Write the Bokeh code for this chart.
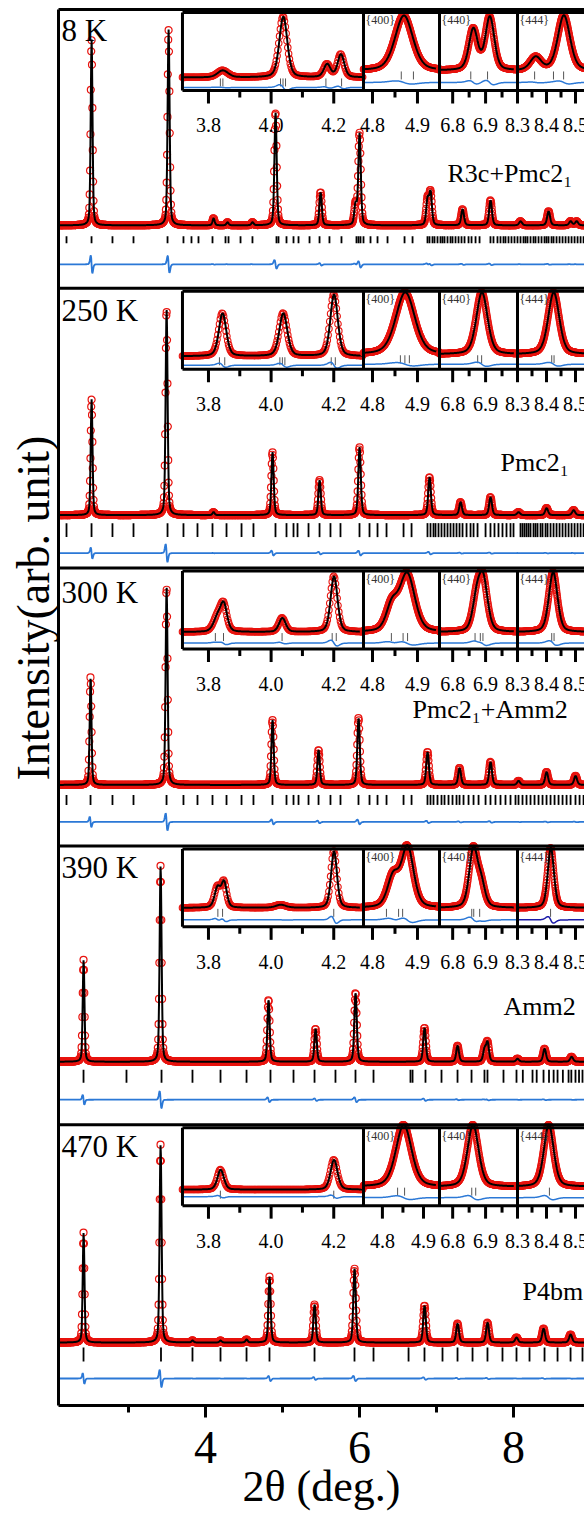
import numpy as np
from bokeh.plotting import figure
from bokeh.models import Range1d, LinearAxis, FixedTicker, Span, Title
from bokeh.core.properties import value
from bokeh.embed import file_html
from bokeh.resources import INLINE

SERIF = "Liberation Serif"
RED = "#e8140f"
BLUE = "#2b78d6"
DARK_BLUE = "#1a1aa8"

# ---------------------------------------------------------------------------
# Data
# ---------------------------------------------------------------------------
TEMPERATURES = ["8 K", "250 K", "300 K", "390 K", "470 K"]
PHASES = ["R3c+Pmc2\u2081", "Pmc2\u2081", "Pmc2\u2081+Amm2", "Amm2", "P4bm"]

TWO_THETA_MIN, TWO_THETA_MAX = 2.09, 8.921
AXIS_MAJOR = [4, 6, 8]
AXIS_MINOR = [3, 5, 7, 9]

# reflections of each pattern: centre (2θ, deg.) and height (arb. unit)
P1_POS = [2.519, 3.519, 4.103, 4.285, 4.609, 4.908, 5.493, 5.947, 5.999, 6.882,
          6.921, 7.337, 7.700, 8.090, 8.454, 8.740, 8.818]
P1_INT = [186, 196, 7, 3, 3, 113, 33, 20, 92, 25, 32, 16, 25, 4, 14, 4, 4]

P2_POS = [2.519, 3.493, 4.103, 4.869, 5.480, 5.999, 6.908, 7.311, 7.700, 8.064,
          8.428, 8.779]
P2_INT = [116, 206, 3, 63, 35, 68, 38, 13, 18, 3, 7, 5]

P3_POS = [2.506, 3.493, 4.869, 5.467, 5.986, 6.882, 7.298, 7.700, 8.064, 8.428,
          8.804]
P3_INT = [108, 198, 65, 35, 67, 33, 17, 23, 4, 13, 9]

P4_POS = [2.415, 3.415, 4.817, 5.428, 5.947, 6.843, 7.272, 7.622, 7.661, 8.051,
          8.402, 8.753]
P4_INT = [102, 196, 62, 33, 69, 34, 16, 12, 19, 3, 13, 5]

P5_POS = [2.415, 3.415, 3.830, 4.194, 4.532, 4.830, 5.415, 5.934, 6.843, 7.272,
          7.661, 8.038, 8.389, 8.740]
P5_INT = [110, 198, 2, 2, 3, 66, 38, 74, 37, 19, 20, 5, 14, 8]

# Bragg reflection markers
P1_HKL = [2.194, 2.519, 2.791, 3.064, 3.506, 3.713, 3.817, 3.908, 4.090, 4.259,
          4.298, 4.454, 4.609, 4.921, 4.947, 5.051, 5.142, 5.207, 5.350, 5.480,
          5.609, 5.765, 5.960, 5.986, 6.012, 6.051, 6.142, 6.233, 6.363, 6.584,
          6.688, 6.882, 6.908, 6.947, 6.973, 7.012, 7.051, 7.077, 7.103, 7.142,
          7.181, 7.207, 7.246, 7.285, 7.324, 7.363, 7.415, 7.454, 7.506, 7.558,
          7.700, 7.739, 7.791, 7.830, 7.869, 7.895, 7.934, 7.973, 8.012, 8.051,
          8.090, 8.129, 8.155, 8.181, 8.220, 8.259, 8.285, 8.324, 8.363, 8.402,
          8.428, 8.454, 8.493, 8.519, 8.558, 8.597, 8.636, 8.675, 8.714, 8.753,
          8.792, 8.831, 8.870, 8.909]
P2_HKL = [2.194, 2.519, 2.791, 3.064, 3.506, 3.713, 3.895, 4.090, 4.272, 4.467,
          4.622, 4.908, 5.051, 5.142, 5.194, 5.337, 5.480, 5.622, 5.752, 5.999,
          6.129, 6.233, 6.350, 6.571, 6.675, 6.882, 6.921, 6.960, 6.986, 7.025,
          7.064, 7.103, 7.142, 7.181, 7.220, 7.259, 7.298, 7.337, 7.389, 7.441,
          7.480, 7.532, 7.636, 7.700, 7.752, 7.804, 7.856, 7.908, 7.960, 7.999,
          8.090, 8.116, 8.142, 8.168, 8.194, 8.220, 8.259, 8.285, 8.311, 8.350,
          8.376, 8.415, 8.441, 8.480, 8.519, 8.558, 8.597, 8.636, 8.675, 8.714,
          8.753, 8.792, 8.831, 8.870, 8.909]
P3_HKL = [2.194, 2.506, 2.791, 3.064, 3.493, 3.713, 3.895, 4.090, 4.272, 4.467,
          4.622, 4.869, 5.051, 5.142, 5.207, 5.337, 5.467, 5.622, 5.752, 5.986,
          6.129, 6.233, 6.350, 6.571, 6.675, 6.882, 6.921, 6.960, 7.012, 7.064,
          7.103, 7.155, 7.207, 7.259, 7.298, 7.350, 7.415, 7.480, 7.545, 7.636,
          7.700, 7.765, 7.830, 7.895, 7.960, 8.025, 8.064, 8.116, 8.168, 8.220,
          8.272, 8.324, 8.376, 8.428, 8.480, 8.532, 8.584, 8.636, 8.688, 8.740,
          8.804, 8.857, 8.909]
P4_HKL = [2.415, 2.973, 3.428, 3.830, 4.194, 4.532, 4.843, 5.142, 5.415, 5.687,
          5.947, 6.181, 6.661, 6.688, 6.856, 7.064, 7.272, 7.454, 7.622, 7.661,
          7.869, 8.038, 8.120, 8.246, 8.300, 8.389, 8.460, 8.520, 8.571, 8.640,
          8.714, 8.750, 8.804, 8.850, 8.895]
P5_HKL = [2.415, 3.421, 3.830, 4.194, 4.532, 4.830, 5.415, 5.934, 6.181, 6.636,
          6.843, 7.077, 7.272, 7.467, 7.661, 7.856, 8.038, 8.207, 8.402, 8.571,
          8.740, 8.895]

# zoomed windows of each pattern: 2θ limits, reflections, heights, widths, markers
SEG_LIMITS = [
    [(3.717, 4.295), (4.780, 4.949), (6.760, 6.997), (8.300, 8.531)],
    [(3.717, 4.295), (4.780, 4.949), (6.760, 6.997), (8.300, 8.531)],
    [(3.717, 4.295), (4.780, 4.949), (6.760, 6.997), (8.300, 8.531)],
    [(3.717, 4.295), (4.780, 4.949), (6.760, 6.997), (8.300, 8.531)],
    [(3.717, 4.295), (4.754, 4.939), (6.760, 6.997), (8.300, 8.531)],
]
SEG_TITLES = ["", "{400}", "{440}", "{444}"]
SEG_MAJOR = [[3.8, 4.0, 4.2], [4.8, 4.9], [6.8, 6.9], [8.3, 8.4, 8.5]]
SEG_MINOR = [[3.9, 4.1], [4.85], [6.85, 6.95], [8.35, 8.45]]

P1_INSET_POS = [[3.845, 4.038, 4.178, 4.222], [4.869], [6.862, 6.912], [8.362, 8.459]]
P1_INSET_INT = [[7, 61, 13, 23], [55], [41, 53], [13, 55]]
P1_INSET_FWHM = [[0.04, 0.03, 0.025, 0.025], [0.047], [0.032, 0.032], [0.045, 0.05]]
P1_INSET_HKL = [[3.838, 3.846, 4.030, 4.038, 4.046, 4.175, 4.225], [4.864, 4.891],
                [6.855, 6.906], [8.359, 8.424, 8.459]]

P2_INSET_POS = [[3.844, 4.038, 4.200], [4.872], [6.888], [8.424]]
P2_INSET_INT = [[43, 43, 62], [62], [62], [62]]
P2_INSET_FWHM = [[0.028, 0.03, 0.028], [0.05], [0.04], [0.045]]
P2_INSET_HKL = [[3.835, 3.852, 4.028, 4.036, 4.044, 4.192, 4.205], [4.862, 4.872, 4.882],
                [6.876, 6.888], [8.418, 8.426]]

P3_INSET_POS = [[3.828, 3.848, 4.035, 4.200], [4.842, 4.876], [6.872, 6.892], [8.422]]
P3_INSET_INT = [[14, 26, 14, 56], [24, 58], [30, 50], [60]]
P3_INSET_FWHM = [[0.03, 0.025, 0.025, 0.026], [0.03, 0.04], [0.03, 0.032], [0.035]]
P3_INSET_HKL = [[3.822, 3.848, 4.035, 4.195, 4.208], [4.842, 4.868, 4.878],
                [6.868, 6.884, 6.892], [8.418, 8.426]]

P4_INSET_POS = [[3.828, 3.849, 4.030, 4.200], [4.845, 4.877], [6.862, 6.886], [8.414]]
P4_INSET_INT = [[20, 25, 3, 57], [30, 60], [58, 22], [60]]
P4_INSET_FWHM = [[0.022, 0.02, 0.04, 0.022], [0.03, 0.032], [0.03, 0.028], [0.025]]
P4_INSET_HKL = [[3.830, 3.845, 4.200], [4.831, 4.858, 4.867], [6.858, 6.864, 6.882], [8.414]]

P5_INSET_POS = [[3.838, 4.200], [4.851], [6.861], [8.407]]
P5_INSET_INT = [[20, 30], [62], [62], [62]]
P5_INSET_FWHM = [[0.024, 0.026], [0.045], [0.04], [0.04]]
P5_INSET_HKL = [[3.838, 4.200], [4.837, 4.854], [6.858, 6.870], [8.410]]

PATTERNS = [
    (P1_POS, P1_INT, P1_HKL, P1_INSET_POS, P1_INSET_INT, P1_INSET_FWHM, P1_INSET_HKL),
    (P2_POS, P2_INT, P2_HKL, P2_INSET_POS, P2_INSET_INT, P2_INSET_FWHM, P2_INSET_HKL),
    (P3_POS, P3_INT, P3_HKL, P3_INSET_POS, P3_INSET_INT, P3_INSET_FWHM, P3_INSET_HKL),
    (P4_POS, P4_INT, P4_HKL, P4_INSET_POS, P4_INSET_INT, P4_INSET_FWHM, P4_INSET_HKL),
    (P5_POS, P5_INT, P5_HKL, P5_INSET_POS, P5_INSET_INT, P5_INSET_FWHM, P5_INSET_HKL),
]

# ---------------------------------------------------------------------------
# Layout of the stacked panels (plot units, measured down from a panel top)
# ---------------------------------------------------------------------------
PLOT_TOP = 1397
PANEL_TOP = [1397, 1118, 838, 560, 281]
BASE_REL = [216, 227, 217, 216, 218]
HKL_REL = [(227, 234), (235, 249), (227, 237), (224, 237), (223, 237)]
DIFF_REL = [255, 265, 254, 254, 254]
TEMP_REL = [21, 22, 24, 22, 22]
PHASE_X = [7.142, 7.830, 6.688, 7.869, 8.116]
PHASE_REL = [164, 174, 142, 161, 167]

SEG_EDGES = [3.700, 6.051, 7.038, 8.051, TWO_THETA_MAX]
BOX_TOP_REL, BOX_BOTTOM_REL = 3, 81
INSET_BASE_REL = [[68, 61, 61, 61], [68, 66, 66, 66], [64, 64, 64, 64],
                  [62, 62, 62, 62], [65, 62, 62, 62]]
INSET_DIFF_REL = [[78, 73, 73, 73], [77, 76, 76, 76], [75, 75, 75, 75],
                  [74, 74, 74, 74], [72, 73, 73, 73]]
INSET_LABEL_REL = 116

CALC_SHIFT = 0.001   # small offset of the refined peak positions


def pseudo_voigt(x, pos, amp, fwhm, eta=0.35):
    x = np.asarray(x, dtype=float)[:, None]
    pos = np.asarray(pos, dtype=float)[None, :]
    amp = np.asarray(amp, dtype=float)[None, :]
    w = np.asarray(fwhm, dtype=float)[None, :]
    d = (x - pos) / w
    g = np.exp(-4.0 * np.log(2.0) * d ** 2)
    lor = 1.0 / (1.0 + 4.0 * d ** 2)
    return (amp * ((1.0 - eta) * g + eta * lor)).sum(axis=1)


p = figure(width=584, height=1513,
           x_range=Range1d(TWO_THETA_MIN, TWO_THETA_MAX),
           y_range=Range1d(0, PLOT_TOP),
           output_backend="svg", toolbar_location=None,
           min_border_left=58, min_border_right=0,
           min_border_top=9, min_border_bottom=107)
p.outline_line_color = None
p.grid.visible = False
p.background_fill_color = "white"
p.border_fill_color = "white"

# bottom axis
xa = p.xaxis[0]
xa.ticker = FixedTicker(ticks=AXIS_MAJOR, minor_ticks=AXIS_MINOR)
xa.axis_line_width = 3
xa.axis_line_color = "black"
xa.major_tick_line_width = 3
xa.minor_tick_line_width = 3
xa.major_tick_line_color = "black"
xa.minor_tick_line_color = "black"
xa.major_tick_out = 12
xa.major_tick_in = 0
xa.minor_tick_out = 7
xa.minor_tick_in = 0
xa.major_label_text_font = SERIF
xa.major_label_text_font_size = "46px"
xa.major_label_text_color = "black"
xa.major_label_standoff = 14
xa.axis_label = "2θ (deg.)"
xa.axis_label_text_font = SERIF
xa.axis_label_text_font_size = "44px"
xa.axis_label_text_font_style = "normal"
xa.axis_label_text_color = "black"
xa.axis_label_standoff = -4

# left axis: frame line only
ya = p.yaxis[0]
ya.ticker = FixedTicker(ticks=[])
ya.axis_line_width = 3
ya.axis_line_color = "black"
ya.major_tick_out = 0
ya.major_tick_in = 0
ya.minor_tick_out = 0
ya.minor_tick_in = 0
ya.major_label_standoff = 0
ya.major_label_text_font_size = "0px"

top_axis = LinearAxis(ticker=FixedTicker(ticks=[]), axis_line_width=3,
                      axis_line_color="black",
                      major_tick_out=0, major_tick_in=0, minor_tick_out=0,
                      minor_tick_in=0, major_label_standoff=0,
                      major_label_text_font_size="0px")
p.add_layout(top_axis, "above")

# vertical intensity label, anchored from the bottom of the frame
p.add_layout(Title(text="Intensity(arb. unit)", align="left",
                   text_font=SERIF, text_font_size="46px",
                   text_font_style="normal", text_color="black",
                   standoff=0, offset=625), "left")

# panel separators
for top in PANEL_TOP[1:]:
    p.add_layout(Span(location=top, dimension="width", line_color="black",
                      line_width=3))

grid = np.arange(TWO_THETA_MIN, TWO_THETA_MAX, 0.005)

for i, (pos, inten, hkl, ipos, iint, ifwhm, ihkl) in enumerate(PATTERNS):
    top = PANEL_TOP[i]
    base = top - BASE_REL[i]
    widths = 0.02 + 0.003 * np.asarray(pos)
    obs = pseudo_voigt(grid, pos, inten, widths)
    calc = pseudo_voigt(grid, np.asarray(pos) + CALC_SHIFT, inten, widths)

    p.scatter(grid, base + obs, marker="circle", size=7, fill_color=None,
              line_color=RED, line_width=1.2)
    p.line(grid, base + calc, line_color="black", line_width=2)
    p.segment(x0=hkl, y0=[top - HKL_REL[i][0]] * len(hkl),
              x1=hkl, y1=[top - HKL_REL[i][1]] * len(hkl),
              line_color="black", line_width=1.8)
    p.line(grid, top - DIFF_REL[i] + (obs - calc), line_color=BLUE,
           line_width=1.8)

    p.text(x=[2.129], y=[top - TEMP_REL[i]], text=[TEMPERATURES[i]],
           text_font=value(SERIF), text_font_size="31px",
           text_align="left", text_baseline="middle", text_color="black")
    p.text(x=[PHASE_X[i]], y=[top - PHASE_REL[i]], text=[PHASES[i]],
           text_font=value(SERIF), text_font_size="26px",
           text_align="left", text_baseline="middle", text_color="black")

    # zoomed windows
    box_top = top - BOX_TOP_REL
    box_bot = top - BOX_BOTTOM_REL
    for j in range(4):
        a, b = SEG_LIMITS[i][j]
        X0, X1 = SEG_EDGES[j], SEG_EDGES[j + 1]
        k = (b - a) / (X1 - X0)
        name = f"win{i}{j}"
        p.extra_x_ranges[name] = Range1d(a - (X0 - TWO_THETA_MIN) * k,
                                         a + (TWO_THETA_MAX - X0) * k)
        step = (b - a) / 220.0
        xs = np.arange(a, b, step)
        ibase = top - INSET_BASE_REL[i][j]
        iobs = pseudo_voigt(xs, ipos[j], iint[j], ifwhm[j])
        icalc = pseudo_voigt(xs, np.asarray(ipos[j]) + CALC_SHIFT, iint[j], ifwhm[j])
        p.scatter(xs, ibase + iobs, marker="circle", size=6.5, fill_color=None,
                  line_color=RED, line_width=1.1, x_range_name=name)
        p.line(xs, ibase + icalc, line_color="black", line_width=2,
               x_range_name=name)
        p.segment(x0=ihkl[j], y0=[ibase - 1] * len(ihkl[j]),
                  x1=ihkl[j], y1=[ibase - 9] * len(ihkl[j]),
                  line_color="#555555", line_width=1, x_range_name=name)
        dcol = DARK_BLUE if (i == 3 and j == 3) else BLUE
        p.line(xs, top - INSET_DIFF_REL[i][j] + (iobs - icalc), line_color=dcol,
               line_width=1.5, x_range_name=name)

        # window ticks and labels
        maj = SEG_MAJOR[j]
        mnr = SEG_MINOR[j]
        p.segment(x0=maj, y0=[box_bot] * len(maj), x1=maj,
                  y1=[box_bot - 13] * len(maj), line_color="black",
                  line_width=3, x_range_name=name)
        p.segment(x0=mnr, y0=[box_bot] * len(mnr), x1=mnr,
                  y1=[box_bot - 7] * len(mnr), line_color="black",
                  line_width=3, x_range_name=name)
        p.text(x=maj, y=[top - INSET_LABEL_REL] * len(maj),
               text=[f"{v:.1f}" for v in maj], text_font=value(SERIF),
               text_font_size="20px", text_align="center",
               text_baseline="middle", text_color="black", x_range_name=name)
        if SEG_TITLES[j]:
            p.text(x=[a], y=[top - 11], text=[SEG_TITLES[j]],
                   text_font=value(SERIF), text_font_size="12px",
                   text_align="left", text_baseline="middle",
                   text_color="#333333", x_range_name=name, x_offset=2)

    # window frame
    p.segment(x0=[SEG_EDGES[0], SEG_EDGES[0]], y0=[box_top, box_bot],
              x1=[TWO_THETA_MAX, TWO_THETA_MAX], y1=[box_top, box_bot],
              line_color="black", line_width=3)
    p.segment(x0=SEG_EDGES[:4], y0=[box_top] * 4, x1=SEG_EDGES[:4],
              y1=[box_bot] * 4, line_color="black", line_width=3)

open("out.html", "w").write(file_html(p, INLINE))
